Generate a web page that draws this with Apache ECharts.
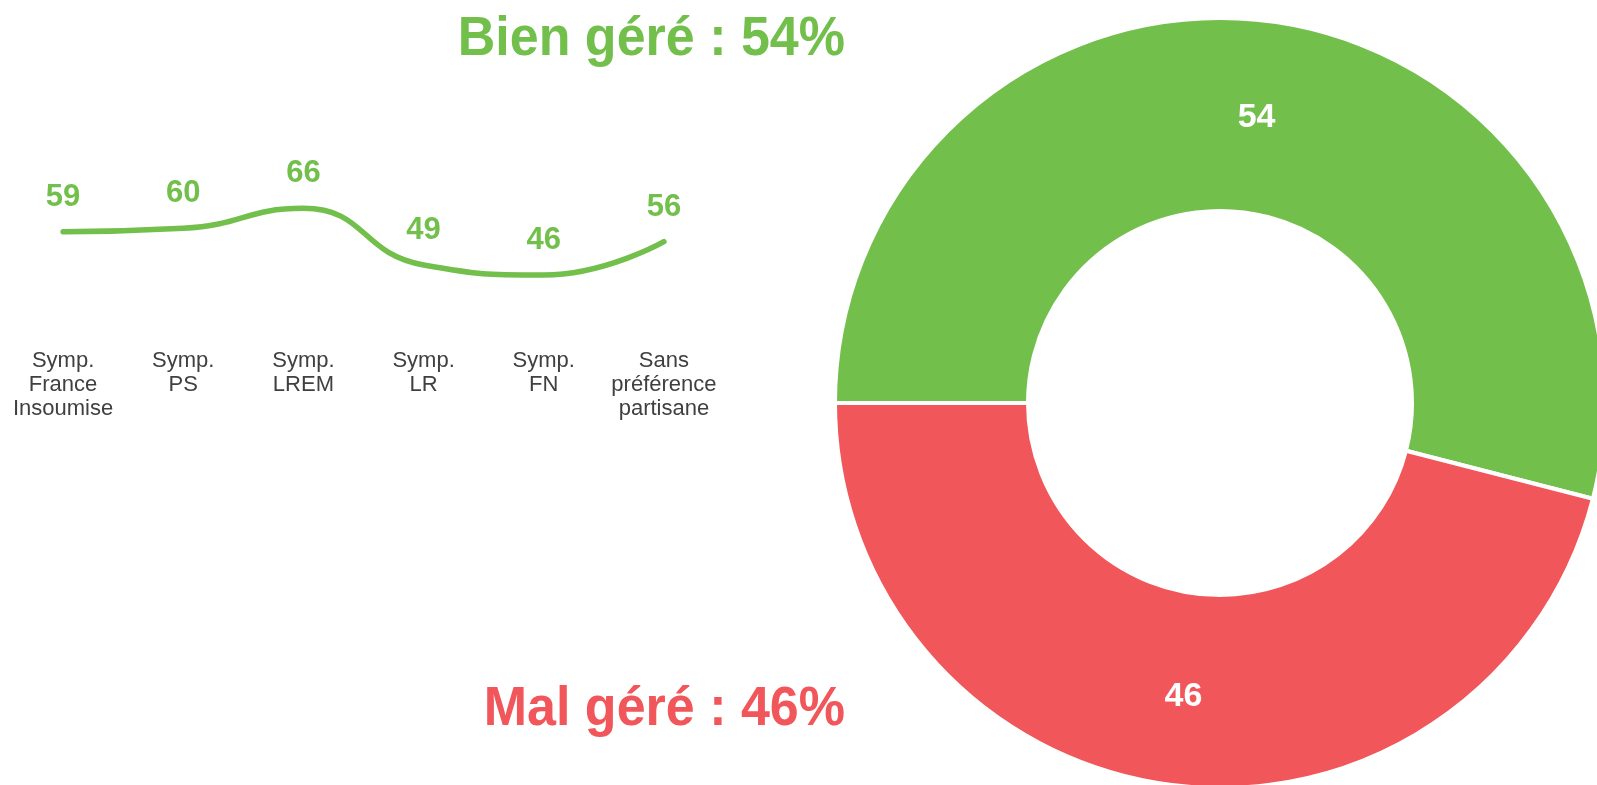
<!DOCTYPE html>
<html>
<head>
<meta charset="utf-8">
<title>Bien géré / Mal géré</title>
<script src="https://cdn.jsdelivr.net/npm/echarts@6/dist/echarts.min.js"></script>
<style>
  html, body { margin: 0; padding: 0; background: #fff; }
  #chart { width: 1597px; height: 785px; }
</style>
</head>
<body>
<div id="chart"></div>
<script>
  'use strict';

  // parties (x axis of the small line chart)
  var categories = [
    'Symp.\nFrance\nInsoumise',
    'Symp.\nPS',
    'Symp.\nLREM',
    'Symp.\nLR',
    'Symp.\nFN',
    'Sans\npréférence\npartisane'
  ];
  // % "bien géré" by party
  var bienValues = [59, 60, 66, 49, 46, 56];

  // donut
  var donutNames = ['Bien géré', 'Mal géré'];
  var donutValues = [54, 46];

  var green = '#72bf4b';
  var red = '#f0565a';
  var font = '"Liberation Sans", Arial, Helvetica, sans-serif';

  var myChart = echarts.init(document.getElementById('chart'));

  var option = {
    animation: false,
    textStyle: { fontFamily: font },

    // big headings (slightly stretched vertically like the original)
    graphic: [
      {
        type: 'text',
        x: 845, y: 40,
        scaleY: 1.08,
        style: {
          text: donutNames[0] + ' : ' + donutValues[0] + '%',
          align: 'right',
          verticalAlign: 'middle',
          fontFamily: font,
          fontWeight: 'bold',
          fontSize: 52,
          fill: green
        }
      },
      {
        type: 'text',
        x: 845, y: 710,
        scaleY: 1.08,
        style: {
          text: donutNames[1] + ' : ' + donutValues[1] + '%',
          align: 'right',
          verticalAlign: 'middle',
          fontFamily: font,
          fontWeight: 'bold',
          fontSize: 52,
          fill: red
        }
      }
    ],

    grid: {
      left: 3,
      top: 145,
      width: 721,
      height: 200
    },

    xAxis: {
      type: 'category',
      data: categories,
      boundaryGap: true,
      axisLine: { show: false },
      axisTick: { show: false },
      splitLine: { show: false },
      axisLabel: {
        interval: 0,
        margin: 4,
        color: '#404040',
        fontSize: 22,
        lineHeight: 24,
        fontFamily: font
      }
    },

    yAxis: {
      type: 'value',
      min: 25,
      max: 85,
      show: false,
      splitLine: { show: false }
    },

    series: [
      {
        name: 'Bien géré',
        type: 'line',
        data: bienValues,
        smooth: 0.5,
        symbol: 'circle',
        symbolSize: 2,
        itemStyle: { color: green },
        lineStyle: { color: green, width: 5.5, cap: 'round' },
        label: {
          show: true,
          position: 'top',
          distance: 18,
          color: green,
          fontWeight: 'bold',
          fontSize: 31,
          fontFamily: font
        }
      },
      {
        name: 'Total',
        type: 'pie',
        center: [1220, 403],
        radius: [192, 385],
        startAngle: 180,
        clockwise: true,
        silent: true,
        data: [
          { name: donutNames[0], value: donutValues[0], itemStyle: { color: green } },
          { name: donutNames[1], value: donutValues[1], itemStyle: { color: red } }
        ],
        itemStyle: { borderColor: '#fff', borderWidth: 4 },
        label: {
          show: true,
          position: 'inside',
          formatter: '{c}',
          offset: [0, 4],
          color: '#fff',
          fontWeight: 'bold',
          fontSize: 34,
          fontFamily: font
        },
        labelLine: { show: false }
      }
    ]
  };

  myChart.setOption(option);
</script>
</body>
</html>
